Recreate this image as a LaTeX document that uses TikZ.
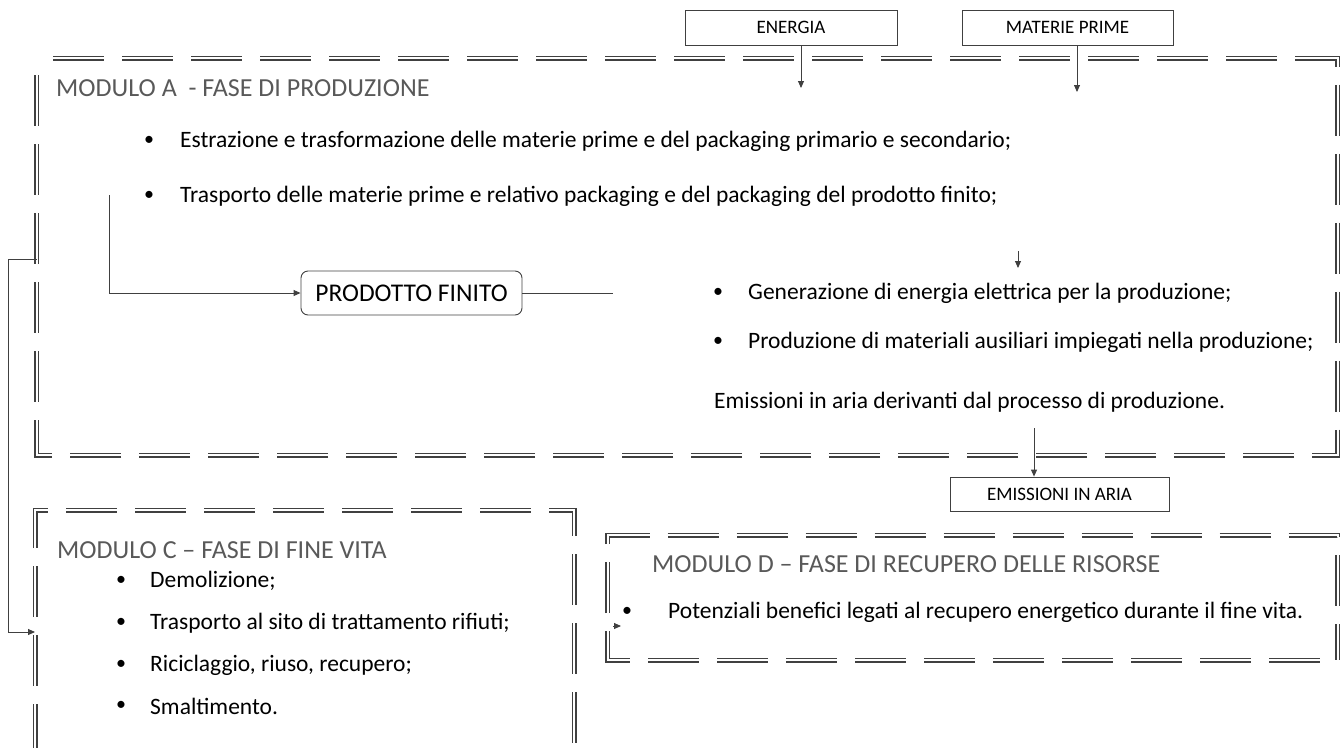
\documentclass[tikz,border=0pt]{standalone}
\usepackage{fontspec}
\setmainfont{Carlito}
\usetikzlibrary{arrows.meta}
\definecolor{titlegray}{HTML}{595959}
\definecolor{linegray}{HTML}{404040}
\begin{document}
\begin{tikzpicture}[x=1pt,y=-1pt,
  frame/.style={draw=linegray, double=white, double distance=2pt, line width=1.5pt, dash pattern=on 51pt off 18pt},
  conn/.style={draw=linegray, line width=0.9pt},
  arr/.style={conn, -{Triangle[length=7pt,width=6pt]}},
  lbl/.style={draw=linegray, line width=0.8pt, inner sep=0pt, font=\fontsize{19}{22}\selectfont},
  ttl/.style={anchor=west, inner sep=0pt, text=titlegray, font=\fontsize{26}{30}\selectfont},
  body/.style={anchor=west, inner sep=0pt, font=\fontsize{23.5}{27}\selectfont},
  bul/.style={anchor=center, inner sep=0pt, font=\fontsize{20}{24}\selectfont}]
\useasboundingbox (0,0) rectangle (1343,747);

% frames
\draw[frame, dash phase=52.5pt] (36.5,58) -- (1337.5,58) -- (1337.5,455) -- (36.5,455) -- cycle;
\draw[frame, dash phase=24pt] (35,800) -- (35,510) -- (574,510) -- (574,800);
\draw[frame, dash phase=51pt] (1337.5,660) -- (607.5,660) -- (607.5,535) -- (1337.5,535) -- cycle;

% Module A
\node[ttl] (tA) at (56,88) {MODULO A\ \ - FASE DI PRODUZIONE};
\node[bul] (bA1) at (149,141) {•};
\node[body] (A1) at (180,141) {Estrazione e trasformazione delle materie prime e del packaging primario e secondario;};
\node[bul] (bA2) at (149,196) {•};
\node[body] (A2) at (180,196) {Trasporto delle materie prime e relativo packaging e del packaging del prodotto finito;};
\node[draw=linegray, line width=0.9pt, rounded corners=7pt, minimum width=221pt, minimum height=44pt, inner sep=0pt, font=\fontsize{25.5}{30}\selectfont] (pf) at (411.5,293) {PRODOTTO FINITO};
\node[bul] (bA3) at (718,293) {•};
\node[body] (A3) at (748,293) {Generazione di energia elettrica per la produzione;};
\node[bul] (bA4) at (718,342) {•};
\node[body] (A4) at (748,342) {Produzione di materiali ausiliari impiegati nella produzione;};
\node[body] (A5) at (714,402) {Emissioni in aria derivanti dal processo di produzione.};

% input / output labels
\node[lbl, minimum width=212pt, minimum height=35pt] (en) at (791,27.5) {ENERGIA};
\node[lbl, minimum width=211pt, minimum height=35pt] (mp) at (1067.5,27.5) {MATERIE PRIME};
\node[lbl, minimum width=219pt, minimum height=34pt] (em) at (1059.5,494) {EMISSIONI IN ARIA};

\coordinate (enA) at (801,88);
\coordinate (mpA) at (1077,92);
\draw[arr] (en.south -| enA) -- (enA);
\draw[arr] (mp.south -| mpA) -- (mpA);
\coordinate (emA) at (1034,428);
\draw[arr] (emA) -- (emA |- em.north);
\coordinate (g1) at (1018,251);
\coordinate (g2) at (1018,268);
\draw[arr] (g1) -- (g2);

% prodotto finito connectors
\coordinate (p1) at (109,195);
\draw[arr] (p1) |- (pf.west);
\coordinate (p2) at (613,293);
\draw[conn] (pf.east) -- (p2);

% Module C
\node[ttl] (tC) at (57,550) {MODULO C – FASE DI FINE VITA};
\node[bul] (bC1) at (121,581) {•};
\node[body] (C1) at (150,581) {Demolizione;};
\node[bul] (bC2) at (121,623) {•};
\node[body] (C2) at (150,623) {Trasporto al sito di trattamento rifiuti;};
\node[bul] (bC3) at (121,665) {•};
\node[body] (C3) at (150,665) {Riciclaggio, riuso, recupero;};
\node[bul] (bC4) at (121,706) {•};
\node[body] (C4) at (150,706) {Smaltimento.};

\coordinate (c0) at (37,259);
\coordinate (c1) at (8,259);
\coordinate (c2) at (8,632);
\coordinate (c3) at (35,632);
\draw[arr] (c0) -- (c1) -- (c2) -- (c3);

% Module D
\node[ttl] (tD) at (652,564) {MODULO D – FASE DI RECUPERO DELLE RISORSE};
\node[bul] (bD1) at (627,612) {•};
\node[body] (D1) at (668,612) {Potenziali benefici legati al recupero energetico durante il fine vita.};
\coordinate (d0) at (613,626);
\coordinate (d1) at (621,626);
\draw[arr] (d0) -- (d1);
\end{tikzpicture}
\end{document}
